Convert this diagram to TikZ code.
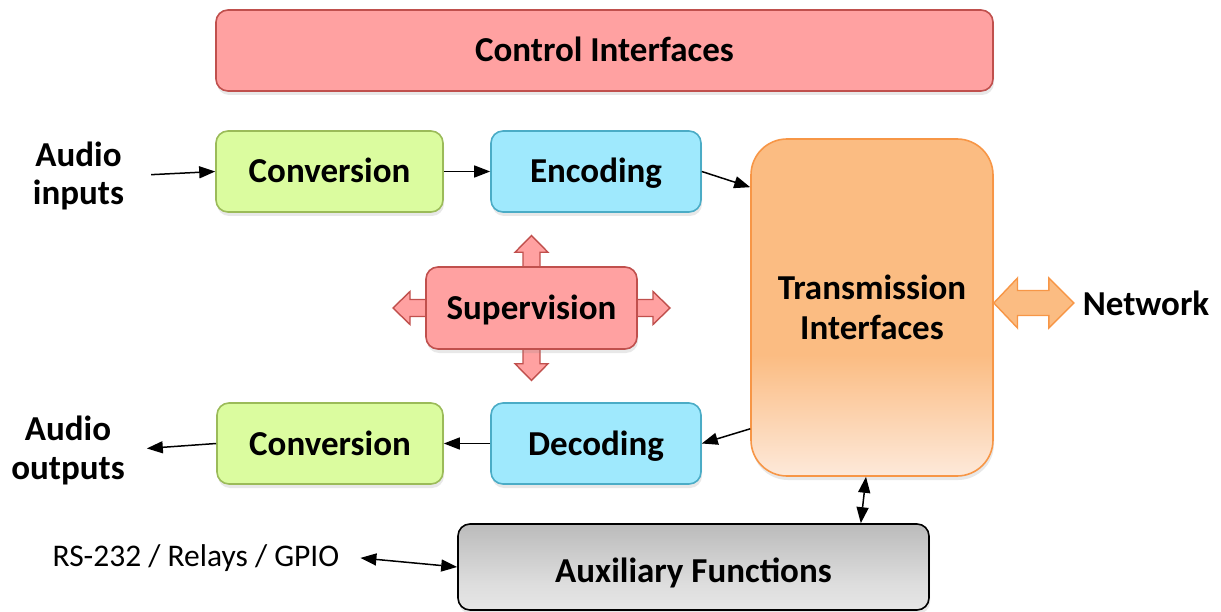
\documentclass[tikz,border=0pt]{standalone}
\usepackage{fontspec}
\setmainfont{Carlito}
\usetikzlibrary{arrows.meta,shadows,calc}
\definecolor{redfill}{HTML}{FFA1A1}
\definecolor{redline}{HTML}{C0504D}
\definecolor{greenfill}{HTML}{DBFC9F}
\definecolor{greenline}{HTML}{9BBB59}
\definecolor{bluefill}{HTML}{9FE9FD}
\definecolor{blueline}{HTML}{4BACC6}
\definecolor{orfill}{HTML}{FBBC82}
\definecolor{orlight}{HTML}{FDE9DA}
\definecolor{orline}{HTML}{F79646}
\definecolor{graytop}{HTML}{BBBBBB}
\definecolor{graybot}{HTML}{E6E6E6}
\pgfdeclareverticalshading{transshade}{100bp}{color(0bp)=(orlight); color(25bp)=(orlight); color(43bp)=(orfill); color(100bp)=(orfill)}
\pgfdeclareverticalshading{grayshade}{100bp}{color(0bp)=(graybot); color(25bp)=(graybot); color(40bp)=(graybot!80!graytop); color(75bp)=(graytop); color(100bp)=(graytop)}
\tikzset{
  boxfont/.style={font=\fontsize{35}{38}\selectfont\bfseries},
  blk/.style={boxfont, rounded corners=12pt, line width=1.6pt, inner sep=0pt,
    text height=23pt, text depth=0pt,
    drop shadow={shadow xshift=1pt, shadow yshift=-4pt, opacity=0.18}},
  redbox/.style={blk, draw=redline, fill=redfill},
  greenbox/.style={blk, draw=greenline, fill=greenfill},
  bluebox/.style={blk, draw=blueline, fill=bluefill},
  lbl/.style={boxfont, align=center, inner sep=0pt},
  conn/.style={line width=1.5pt, -{Triangle[length=16pt,width=12pt]}},
  biconn/.style={line width=1.5pt, {Triangle[length=16pt,width=12pt]}-{Triangle[length=16pt,width=12pt]}},
  blockarrow/.style={fill=redfill, draw=redline, line width=1.4pt, line join=miter}
}
\begin{document}
\begin{tikzpicture}[x=1pt,y=-1pt]
\useasboundingbox (0,0) rectangle (1221,612);

\node[redbox, minimum width=777pt, minimum height=81pt] (ctrl) at (604.5,50.5) {Control Interfaces};

\node[greenbox, minimum width=227pt, minimum height=81pt] (conv1) at (329.5,171.5) {Conversion};
\node[bluebox, minimum width=210pt, minimum height=81pt] (enc) at (596,171.5) {Encoding};

\node[greenbox, minimum width=226pt, minimum height=81pt] (conv2) at (330,443.5) {Conversion};
\node[bluebox, minimum width=210pt, minimum height=81pt] (dec) at (596,443.5) {Decoding};

% supervision with block arrows
\coordinate (supc) at (531.5,308);
\foreach \ang/\hb/\tp in {0/121.5/138.5, 180/121.5/138.5, 90/55.7/72.5, 270/55.7/72.5}{
  \begin{scope}[shift={(supc)}, rotate=\ang]
    \draw[blockarrow] (0,-8.5) -- (\hb,-8.5) -- (\hb,-16.5) -- (\tp,0) -- (\hb,16.5) -- (\hb,8.5) -- (0,8.5) -- cycle;
  \end{scope}
}
\node[redbox, minimum width=211pt, minimum height=82pt] (sup) at (supc) {Supervision};

% transmission
\node[boxfont, align=center, rounded corners=36pt, line width=1.6pt, draw=orline,
      shading=transshade, minimum width=242pt, minimum height=337pt, inner sep=0pt,
      drop shadow={shadow xshift=1pt, shadow yshift=-4pt, opacity=0.18},
      font=\fontsize{35}{40}\selectfont\bfseries]
      (trans) at (872,307.5) {Transmission\\Interfaces};

% network double arrow
\begin{scope}[shift={(trans.east)}]
  \draw[fill=orfill, draw=orline, line width=1.4pt, line join=miter]
    (0,-4.5) -- (23.7,-29.5) -- (23.7,-17) -- (55,-17) -- (55,-29.5) -- (80,-4.5)
    -- (55,20.5) -- (55,8) -- (23.7,8) -- (23.7,20.5) -- cycle;
\end{scope}
\node[boxfont, inner sep=0pt, text height=23pt, text depth=0pt] (net) at (1146,304) {Network};

% auxiliary
\node[blk, draw=black, shading=grayshade, minimum width=471pt, minimum height=86pt, text height=31pt] (aux) at (693.5,567) {Auxiliary Functions};

% labels
\node[lbl, font=\fontsize{35}{38}\selectfont\bfseries] (ain) at (78.5,176) {Audio\\inputs};
\node[lbl, font=\fontsize{35}{39}\selectfont\bfseries] (aout) at (68,450) {Audio\\outputs};
\node[inner sep=0pt, font=\fontsize{31.5}{36}\selectfont, text height=21pt, text depth=0pt] (rs) at (196,556) {RS-232 / Relays / GPIO};

% connectors
\draw[conn, shorten <=27pt] (ain.east) -- (conv1.west);
\draw[conn] (conv1.east) -- (enc.west);
\draw[conn] (enc.east) -- ($(trans.north west)+(0,49)$);
\draw[conn] ($(trans.south west)+(0,-48)$) -- (dec.east);
\draw[conn] (dec.west) -- (conv2.east);
\draw[conn, shorten >=22pt] (conv2.west) -- (aout.east);
\draw[biconn] ($(trans.south)+(-6,0)$) -- ($(aux.north east)+(-69,0)$);
\draw[biconn, shorten <=21pt] (rs.east) -- (aux.west);
\end{tikzpicture}
\end{document}
